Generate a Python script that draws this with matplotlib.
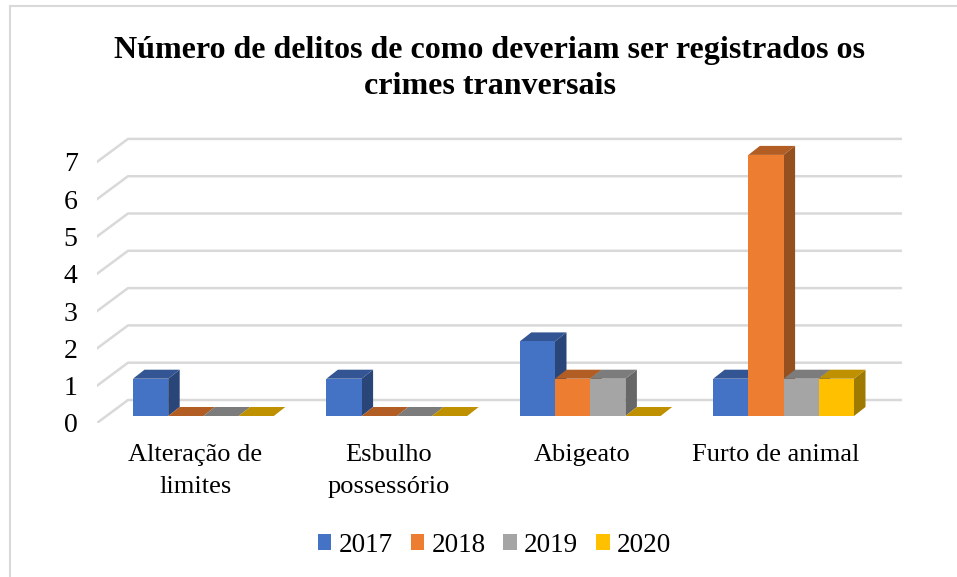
from matplotlib import pyplot as plt
from matplotlib.patches import Patch, Polygon, Rectangle

plt.rcParams["font.family"] = ["Liberation Serif", "DejaVu Serif"]

categorias = ["Alteração de\nlimites", "Esbulho\npossessório", "Abigeato", "Furto de animal"]
anos = ["2017", "2018", "2019", "2020"]
v2017 = [1, 1, 2, 1]
v2018 = [0, 0, 1, 7]
v2019 = [0, 0, 1, 1]
v2020 = [0, 0, 0, 1]
series = [v2017, v2018, v2019, v2020]
yticks = [0, 1, 2, 3, 4, 5, 6, 7]

cores = ["#4472C4", "#ED7D31", "#A5A5A5", "#FFC000"]
cores_topo = ["#335593", "#B15D23", "#7C7C7C", "#BF9000"]
cores_lado = ["#2A4679", "#94501F", "#676767", "#9F7A00"]

W, H = 957, 577
# escala em pixels: 1 categoria = 193.4 px, 1 delito = 37.3 px
px_x = 193.4
px_y = 37.3
largura = 35.2 / px_x
# profundidade do grafico 3d
dx_bar, dy_bar = 11.5 / px_x, 9 / px_y
base = 7 / px_y
dx_grade, dy_grade = 31 / px_x, 23 / px_y

fig = plt.figure(figsize=(W / 100, H / 100), dpi=100)
fig.patch.set_facecolor("white")
left, right, bottom, top = 97, 902, 423, 130
ax = fig.add_axes([left / W, 1 - bottom / H, (right - left) / W, (bottom - top) / H])
ax.set_xlim((left - 203.4) / px_x, (right - 203.4) / px_x)
ax.set_ylim(0, (bottom - top) / px_y)
for s in ax.spines.values():
    s.set_visible(False)
ax.patch.set_alpha(0)

# grade
x0, x1 = ax.get_xlim()
for t in yticks:
    ax.plot([x0, x0 + dx_grade, x1], [t, t + dy_grade, t + dy_grade], color="#D9D9D9", lw=1.8, zorder=1)

# barras: primeiro os lados, depois os topos, a frente por ultimo
for i in range(len(categorias)):
    for j in range(len(anos)):
        v = series[j][i]
        x = i + (j - 2) * largura
        ax.add_patch(Polygon([(x + largura, base), (x + largura + dx_bar, base + dy_bar),
                              (x + largura + dx_bar, base + v + dy_bar), (x + largura, base + v)],
                             facecolor=cores_lado[j], edgecolor="none", zorder=2))
        ax.add_patch(Polygon([(x, base + v), (x + dx_bar, base + v + dy_bar),
                              (x + largura + dx_bar, base + v + dy_bar), (x + largura, base + v)],
                             facecolor=cores_topo[j], edgecolor="none", zorder=3))
        if v > 0:
            ax.add_patch(Rectangle((x, base), largura, v, facecolor=cores[j], edgecolor="none", zorder=4))

ax.set_yticks(yticks)
ax.set_yticklabels([str(t) for t in yticks], fontsize=20)
ax.set_xticks([i - 0.043 for i in range(len(categorias))])
ax.set_xticklabels(categorias, fontsize=19)
for lab in ax.get_xticklabels():
    lab.set_linespacing(1.6)
ax.tick_params(axis="both", length=0)
ax.tick_params(axis="x", pad=15)
ax.tick_params(axis="y", pad=14)

fig.text(489.5 / W, 1 - 68.5 / H, "Número de delitos de como deveriam ser registrados os\ncrimes tranversais",
         ha="center", va="center", fontsize=23, fontweight="bold", linespacing=1.35)

handles = [Patch(facecolor=c, label=a) for c, a in zip(cores, anos)]
fig.legend(handles=handles, ncol=4, loc="center", bbox_to_anchor=(494.5 / W, 1 - 545 / H), frameon=False,
           fontsize=19.5, handlelength=0.5, handleheight=0.55, handletextpad=0.27, columnspacing=0.66)

# moldura do grafico
fig.add_artist(plt.Line2D([9.5 / W, 9.5 / W], [0, 1 - 6 / H], color="#D9D9D9", lw=1.5))
fig.add_artist(plt.Line2D([9.5 / W, 1], [1 - 6 / H, 1 - 6 / H], color="#D9D9D9", lw=1.5))

fig.savefig("out.png", dpi=100)
